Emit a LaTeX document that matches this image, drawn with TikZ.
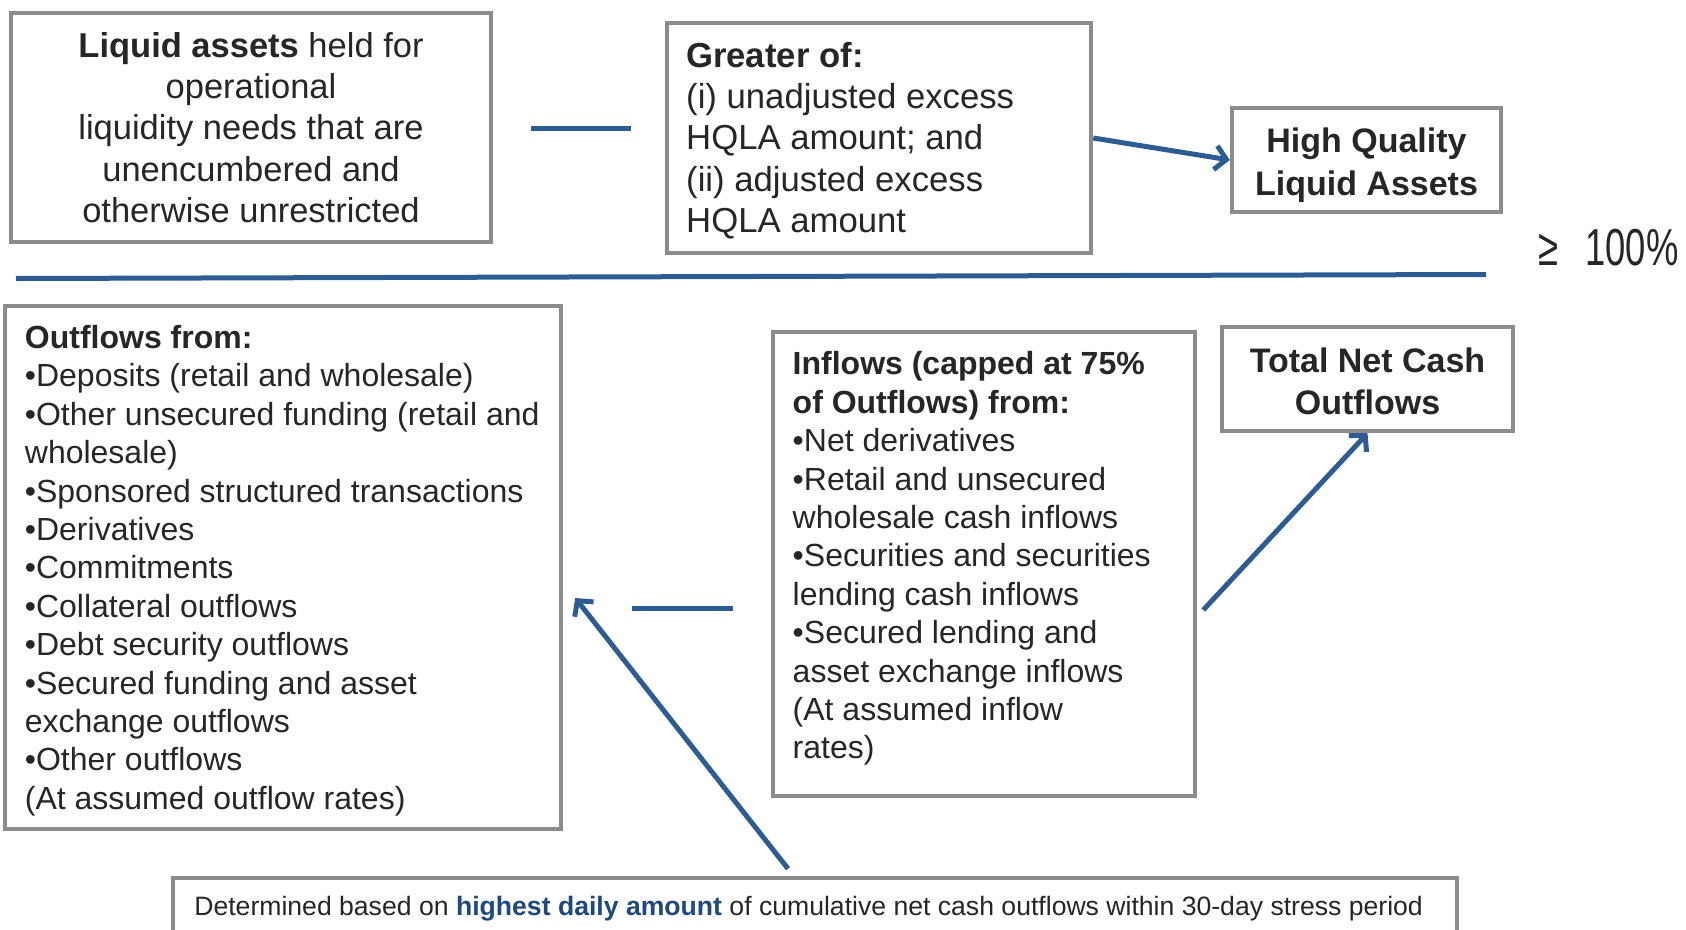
\documentclass[tikz,border=0pt]{standalone}
\usepackage{fontspec}
\setmainfont{Liberation Sans}
\usetikzlibrary{arrows.meta}
\definecolor{txt}{RGB}{38,38,38}
\definecolor{bord}{RGB}{140,140,140}
\definecolor{lineblue}{RGB}{44,92,145}
\definecolor{hiblue}{RGB}{31,73,125}
\begin{document}
\begin{tikzpicture}[x=1pt,y=-1pt,
 box/.style={draw=bord, line width=4.5pt, fill=white, inner sep=0pt, rectangle, text=txt},
 conn/.style={draw=lineblue, line width=5pt, -{Straight Barb[length=11pt,width=24pt]}},
 minus/.style={draw=lineblue, line width=5pt},
 body/.style={text=txt, inner sep=0pt, align=left, anchor=west},
]
\useasboundingbox (0,0) rectangle (1686,929);
\clip (0,0) rectangle (1686,929);

% top row
\node[box, minimum width=480pt, minimum height=229pt, align=center,
      font=\fontsize{34.5}{41.2}\selectfont] (liq) at (251,127.5)
  {\textbf{Liquid assets} held for\\operational\\liquidity needs that are\\unencumbered and\\otherwise unrestricted};

\node[box, minimum width=424pt, minimum height=230pt] (greater) at (879,138) {};
\node[body, font=\fontsize{34.7}{41.4}\selectfont] (greatertext) at (686,140.7)
  {\textbf{Greater of:}\\(i) unadjusted excess\\HQLA amount; and\\(ii) adjusted excess\\HQLA amount};

\node[box, minimum width=269pt, minimum height=104pt] (hqla) at (1366.5,160) {};
\node[text=txt, inner sep=0pt, align=center,
      font=\bfseries\fontsize{34}{43}\selectfont] (hqlatext) at (1366.5,165.4)
  {High Quality\\Liquid Assets};

\node[text=txt, inner sep=0pt, anchor=base, font=\fontsize{52}{52}\selectfont] (ratio) at (1608.5,265.5)
  {\scalebox{0.7}[1]{≥}\hspace{27pt}\scalebox{0.7}[1]{100\%}};

% operators and divider
\draw[minus] (531,128) -- (631,128);
\draw[minus] (16,278.5) -- (1486,274.5);
\draw[minus] (632,608) -- (733,608);

% bottom row
\node[box, minimum width=556pt, minimum height=523pt] (outflows) at (283,567.5) {};
\node[body, font=\fontsize{32}{38.4}\selectfont] (outflowstext) at (24.7,570.7)
  {\textbf{Outflows from:}\\•Deposits (retail and wholesale)\\•Other unsecured funding (retail and\\wholesale)\\•Sponsored structured transactions\\•Derivatives\\•Commitments\\•Collateral outflows\\•Debt security outflows\\•Secured funding and asset\\exchange outflows\\•Other outflows\\(At assumed outflow rates)};

\node[box, minimum width=422pt, minimum height=464pt] (inflows) at (984,564) {};
\node[body, font=\fontsize{32}{38.4}\selectfont] (inflowstext) at (792.5,558.6)
  {\textbf{Inflows (capped at 75\%}\\\textbf{of Outflows) from:}\\•Net derivatives\\•Retail and unsecured\\wholesale cash inflows\\•Securities and securities\\lending cash inflows\\•Secured lending and\\asset exchange inflows\\(At assumed inflow\\rates)};

\node[box, minimum width=291pt, minimum height=104pt] (tnco) at (1367.5,379) {};
\node[text=txt, inner sep=0pt, align=center,
      font=\bfseries\fontsize{34}{42}\selectfont] (tncotext) at (1367.5,381.2)
  {Total Net Cash\\Outflows};

\node[box, minimum width=1284pt, minimum height=57pt] (bottom) at (815,906.5) {};
\node[text=txt, inner sep=0pt, font=\fontsize{26.6}{30}\selectfont] (bottomtext) at (808.6,908.6)
  {Determined based on \textcolor{hiblue}{\textbf{highest daily amount}} of cumulative net cash outflows within 30-day stress period};

% connectors
\draw[conn] (greater.east) -- (hqla.west);
\coordinate (a2s) at ([xshift=-27pt,yshift=7pt]bottom.north);
\coordinate (a2e) at ([xshift=12pt,yshift=-30.5pt]outflows.east);
\draw[conn] (a2s) -- (a2e);
\coordinate (a3s) at ([xshift=6pt,yshift=-46pt]inflows.east);
\draw[conn] (a3s) -- (tnco.south);
\end{tikzpicture}
\end{document}
